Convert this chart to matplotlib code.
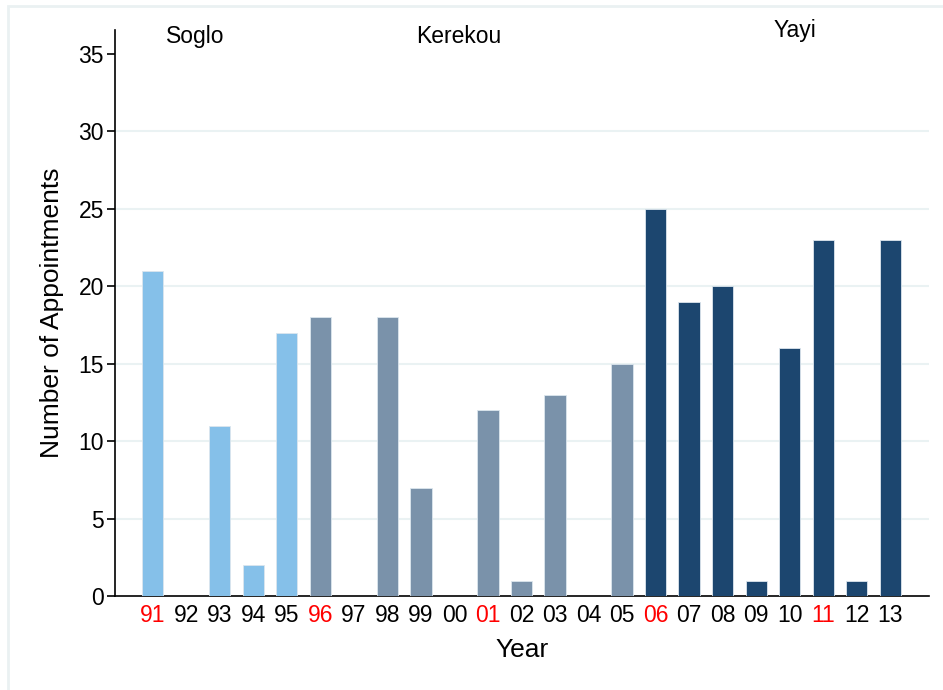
import matplotlib
matplotlib.use("Agg")
import matplotlib.pyplot as plt
from matplotlib.patches import Rectangle

years = ["91", "92", "93", "94", "95", "96", "97", "98", "99", "00", "01", "02",
         "03", "04", "05", "06", "07", "08", "09", "10", "11", "12", "13"]
appointments = [21, 0, 11, 2, 17, 18, 0, 18, 7, 0, 12, 1, 13, 0, 15,
                25, 19, 20, 1, 16, 23, 1, 23]
president = ["Soglo"] * 5 + ["Kerekou"] * 10 + ["Yayi"] * 8
election_years = ["91", "96", "01", "06", "11"]
pres_colors = {"Soglo": "#85C0E9", "Kerekou": "#7A92AA", "Yayi": "#1C466F"}
pres_labels = ["Soglo", "Kerekou", "Yayi"]
pres_label_x = [1.25, 9.13, 19.16]
pres_label_y = [36.15, 36.15, 36.5]
yticks = [0, 5, 10, 15, 20, 25, 30, 35]

plt.rcParams['font.family'] = ['Liberation Sans', 'DejaVu Sans']

W, H = 943, 690
fig = plt.figure(figsize=(W / 100, H / 100), dpi=100)
fig.patches.append(Rectangle((8 / W, -0.1), 2, 1.1 - 6 / H, transform=fig.transFigure,
                             fill=False, edgecolor="#EAF1F2", linewidth=2))

ax = fig.add_axes([115 / W, 1 - 596 / H, (929 - 115) / W, (596 - 30) / H])
x = list(range(len(years)))
colors = [pres_colors[p] for p in president]
ax.bar(x, appointments, width=0.63, color=colors, edgecolor="#DCE6EE", linewidth=0.6, zorder=3)

ax.set_xlim(-1.13, 23.16)
ax.set_ylim(0, 36.55)
ax.set_yticks(yticks)
ax.set_yticklabels([str(t) for t in yticks], fontsize=16.5)
for t in [5, 10, 15, 20, 25, 30]:
    ax.axhline(t, color="#EAF2F3", linewidth=1.5, zorder=1)

ax.set_xticks(x)
ax.set_xticklabels(years, fontsize=16.5)
for lab in ax.get_xticklabels():
    if lab.get_text() in election_years:
        lab.set_color("red")
ax.tick_params(axis="x", length=0, pad=6)
ax.tick_params(axis="y", length=6, width=1.2, pad=2)

for s in ["top", "right"]:
    ax.spines[s].set_visible(False)
ax.spines["left"].set_linewidth(1.2)
ax.spines["bottom"].set_linewidth(1.2)

ax.set_xlabel("Year", fontsize=19, labelpad=8)
ax.set_ylabel("Number of Appointments", fontsize=19, labelpad=10)

for lbl, lx, ly in zip(pres_labels, pres_label_x, pres_label_y):
    ax.text(lx, ly, lbl, ha="center", va="center", fontsize=16.5, clip_on=False)

fig.savefig("out.png", dpi=100)
